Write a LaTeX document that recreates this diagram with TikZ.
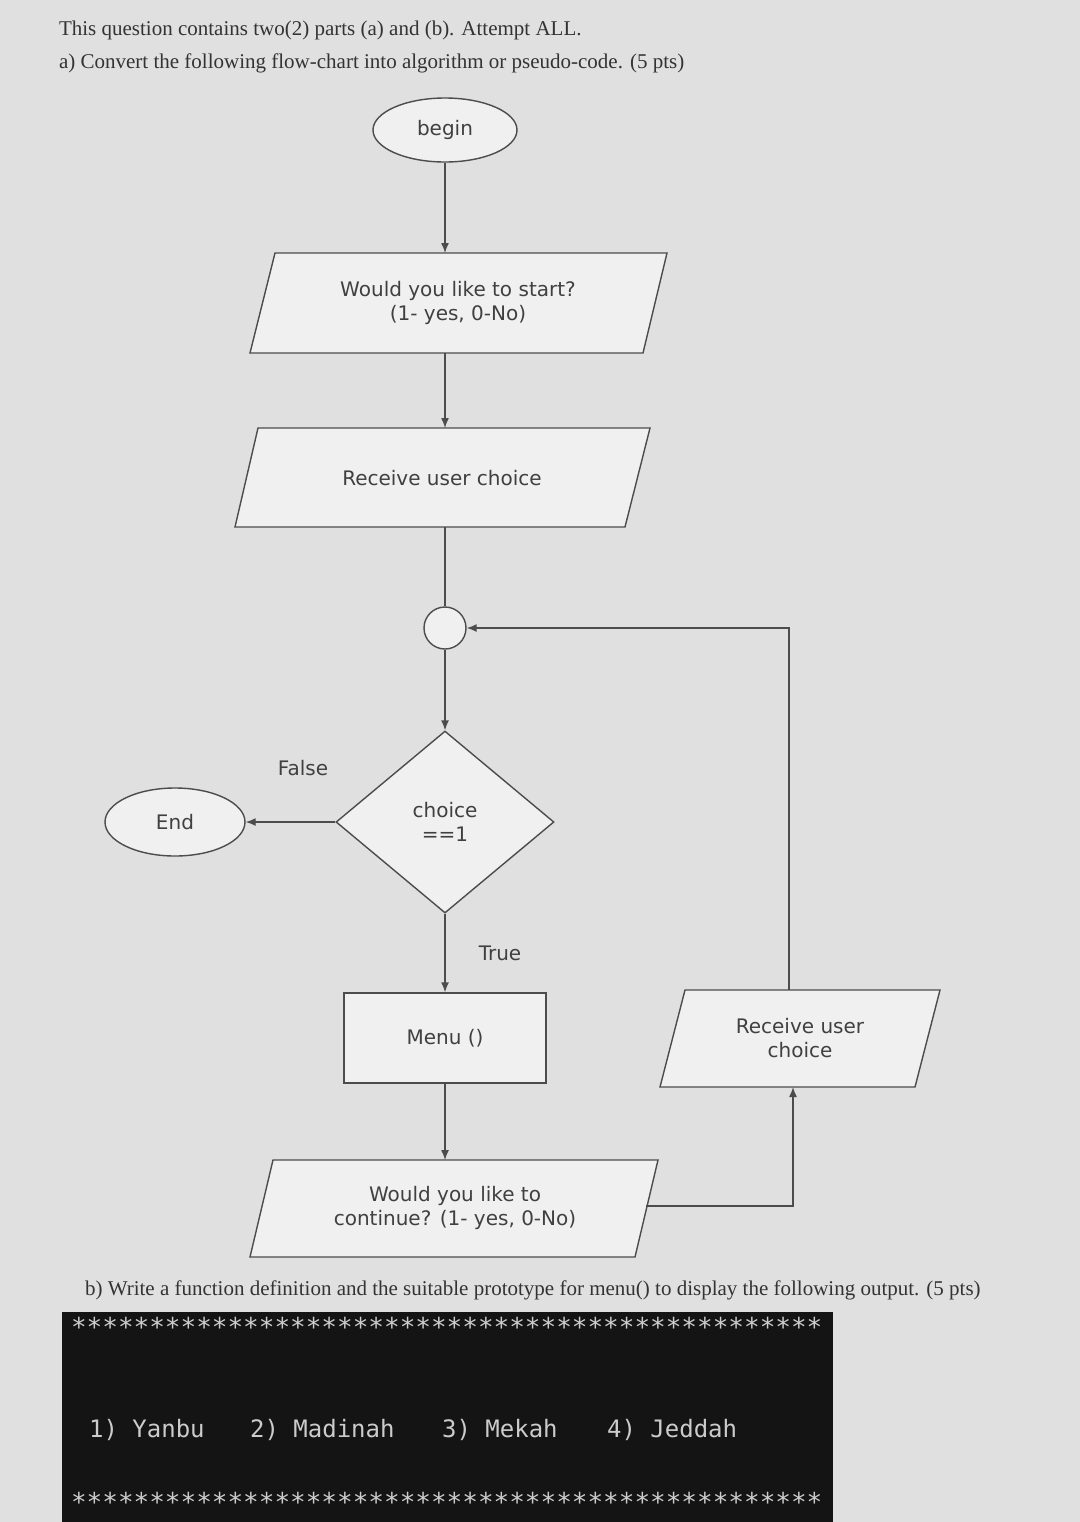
\documentclass[tikz,border=0pt]{standalone}
\usepackage{fontspec}
\setmainfont{Liberation Serif}
\setsansfont{DejaVu Sans}
\setmonofont{DejaVu Sans Mono}
\usetikzlibrary{shapes.geometric,arrows.meta}
\begin{document}
\begin{tikzpicture}[x=0.5pt,y=-0.5pt,
  ln/.style={draw=black!70,line width=0.7pt},
  arr/.style={ln,-{Latex[length=5pt,width=4pt]}},
  lbl/.style={font=\sffamily\fontsize{10}{12}\selectfont,text=black!75,align=center},
  hdr/.style={font=\fontsize{10.5}{12}\selectfont,text=black!80,anchor=west},
  mono/.style={font=\ttfamily\fontsize{12}{12}\selectfont,text=white!80!black,anchor=west}]
\useasboundingbox (0,0) rectangle (1080,1522);
\fill[black!12] (0,0) rectangle (1080,1522);
\node[hdr] (h1) at (52,30) {This question contains two(2) parts (a) and (b). Attempt ALL.};
\node[hdr] (h2) at (52,63) {a) Convert the following flow-chart into algorithm or pseudo-code. (5 pts)};
% shapes
\node[ellipse,ln,fill=black!6,minimum width=72pt,minimum height=32pt,lbl] (begin) at (445,130) {begin};
\filldraw[ln,fill=black!6] (275,253) -- (667,253) -- (643,353) -- (250,353) -- cycle;
\node[lbl] (start) at (458,303) {Would you like to start?\\(1- yes, 0-No)};
\filldraw[ln,fill=black!6] (258,428) -- (650,428) -- (625,527) -- (235,527) -- cycle;
\node[lbl] (recv) at (442,478) {Receive user choice};
\node[circle,ln,fill=black!6,minimum size=21pt] (conn) at (445,628) {};
\node[diamond,ln,fill=black!6,minimum width=109pt,minimum height=91pt,lbl,inner sep=0pt] (dec) at (445,822) {choice\\==1};
\node[ellipse,ln,fill=black!6,minimum width=70pt,minimum height=34pt,lbl] (end) at (175,822) {End};
\node[rectangle,ln,fill=black!6,minimum width=101pt,minimum height=45pt,lbl] (menu) at (445,1038) {Menu ()};
\filldraw[ln,fill=black!6] (685,990) -- (940,990) -- (915,1087) -- (660,1087) -- cycle;
\node[lbl] (recv2) at (800,1038) {Receive user\\choice};
\filldraw[ln,fill=black!6] (273,1160) -- (658,1160) -- (635,1257) -- (250,1257) -- cycle;
\node[lbl] (cont) at (455,1208) {Would you like to\\continue? (1- yes, 0-No)};
\coordinate (startT) at (445,253);
\coordinate (startB) at (445,353);
\coordinate (recvT) at (445,428);
\coordinate (recvB) at (445,527);
\coordinate (contT) at (445,1160);
\coordinate (contR) at (646,1206);
\coordinate (r2B) at (793,1087);
\coordinate (r2T) at (789,990);
% connectors
\draw[arr] (begin.south) -- (startT);
\draw[arr] (startB) -- (recvT);
\draw[ln] (recvB) -- (conn.north);
\draw[arr] (conn.south) -- (dec.north);
\draw[arr] (dec.west) -- (end.east);
\draw[arr] (dec.south) -- (menu.north);
\draw[arr] (menu.south) -- (contT);
\draw[arr] (contR) -| (r2B);
\draw[arr] (r2T) |- (conn.east);
\node[lbl] (fl) at (303,768) {False};
\node[lbl] (tl) at (500,953) {True};
% part b
\node[hdr] (hb) at (78,1290) {b) Write a function definition and the suitable prototype for menu() to display the following output. (5 pts)};
\fill[black!92] (62,1312) rectangle (833,1522);
\node[mono,font=\ttfamily\fontsize{13}{13}\selectfont] (s1) at (64,1327) {************************************************};
\node[mono,font=\ttfamily\fontsize{13}{13}\selectfont] (s2) at (64,1502) {************************************************};
\node[mono] (m1) at (82,1430) {1) Yanbu};
\node[mono] (m2) at (243,1430) {2) Madinah};
\node[mono] (m3) at (435,1430) {3) Mekah};
\node[mono] (m4) at (600,1430) {4) Jeddah};
\end{tikzpicture}
\end{document}
